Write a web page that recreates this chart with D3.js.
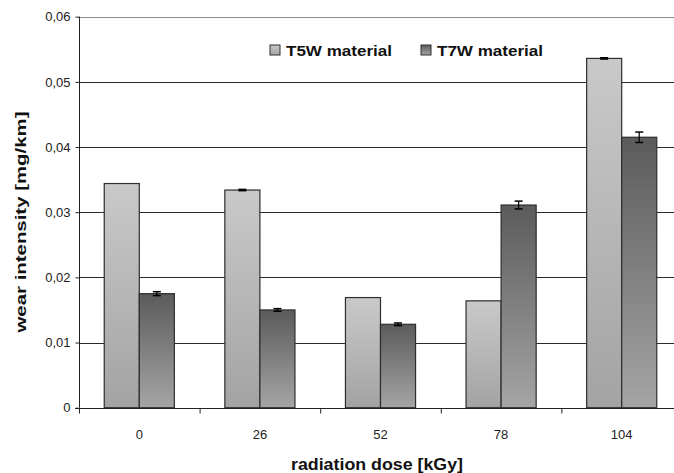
<!DOCTYPE html>
<html><head><meta charset="utf-8">
<script src="https://cdn.jsdelivr.net/npm/d3@7"></script>
<style>body{margin:0;background:#fff;}svg{display:block;}</style>
</head><body>
<svg id="c" width="674" height="473"></svg>
<script>
const categories = ["0", "26", "52", "78", "104"];
const seriesNames = ["T5W material", "T7W material"];
const t5w = [0.0344, 0.0334, 0.0169, 0.0164, 0.0536];
const t7w = [0.0175, 0.0150, 0.0128, 0.0311, 0.0415];
const t5wErr = [0, 0.0001, 0, 0, 0.0001];
const t7wErr = [0.0003, 0.0002, 0.0002, 0.0006, 0.0008];
const yTicks = [0, 0.01, 0.02, 0.03, 0.04, 0.05, 0.06];

const svg = d3.select("#c");
const mLeft = 79, mRight = 682, mTop = 16.7, mBottom = 407.7;

const defs = svg.append("defs");
const g1 = defs.append("linearGradient").attr("id","gl").attr("x1",0).attr("y1",0).attr("x2",0).attr("y2",1);
g1.append("stop").attr("offset","0%").attr("stop-color","#c9c9c9");
g1.append("stop").attr("offset","100%").attr("stop-color","#a3a3a3");
const g2 = defs.append("linearGradient").attr("id","gd").attr("x1",0).attr("y1",0).attr("x2",0).attr("y2",1);
g2.append("stop").attr("offset","0%").attr("stop-color","#5b5b5b");
g2.append("stop").attr("offset","100%").attr("stop-color","#a5a5a5");

const x = d3.scaleBand().domain(categories).range([mLeft, mRight]).paddingInner(0).paddingOuter(0);
const inner = d3.scaleBand().domain([0,1]).range([0, x.bandwidth()]).paddingOuter(0.72).paddingInner(0);
const y = d3.scaleLinear().domain([0, 0.06]).range([mBottom, mTop]);

// gridlines
svg.append("g").selectAll("line").data(yTicks.slice(1)).join("line")
  .attr("x1", mLeft).attr("x2", 674)
  .attr("y1", d => Math.round(y(d)) + 0.5).attr("y2", d => Math.round(y(d)) + 0.5)
  .attr("stroke", d => d === 0.06 ? "#8c8c8c" : "#2a2a2a").attr("stroke-width", 1);

const data = categories.map((c, i) => ({c, vals: [t5w[i], t7w[i]], errs: [t5wErr[i], t7wErr[i]]}));
const fills = ["url(#gl)", "url(#gd)"];

const grp = svg.append("g").selectAll("g").data(data).join("g")
  .attr("transform", d => `translate(${x(d.c)},0)`);
grp.selectAll("rect").data(d => d.vals.map((v, k) => ({v, k}))).join("rect")
  .attr("x", d => inner(d.k)).attr("width", inner.bandwidth())
  .attr("y", d => y(d.v)).attr("height", d => y(0) - y(d.v))
  .attr("fill", d => fills[d.k]).attr("stroke", "#2e2e2e").attr("stroke-width", 1.2);

// error bars
grp.each(function(d) {
  const g = d3.select(this);
  d.vals.forEach((v, k) => {
    const e = d.errs[k];
    if (e <= 0) return;
    const cx = inner(k) + inner.bandwidth() / 2;
    g.append("line").attr("x1", cx).attr("x2", cx).attr("y1", y(v + e)).attr("y2", y(v - e))
      .attr("stroke", "#000").attr("stroke-width", 1.2);
    [v + e, v - e].forEach(t => g.append("line").attr("x1", cx - 4).attr("x2", cx + 4)
      .attr("y1", y(t)).attr("y2", y(t)).attr("stroke", "#000").attr("stroke-width", 1.5));
  });
});

// y axis
const yAxis = d3.axisLeft(y).tickValues(yTicks).tickSize(4).tickPadding(5)
  .tickFormat(d => d === 0 ? "0" : d3.format(".2f")(d).replace(".", ","));
const ya = svg.append("g").attr("transform", `translate(${mLeft + 0.5},0)`).call(yAxis);
ya.select(".domain").attr("stroke", "#222").attr("d", `M0,${mTop}V${mBottom}`);
ya.selectAll(".tick line").attr("stroke", "#222");
ya.selectAll("text").attr("font-family", "Arial, 'Liberation Sans', sans-serif").attr("font-size", 13).attr("fill", "#222");

// x axis
const xa = svg.append("g").attr("transform", `translate(0,${Math.round(mBottom) + 0.5})`);
xa.append("line").attr("x1", mLeft - 4).attr("x2", 674).attr("y1", 0).attr("y2", 0).attr("stroke", "#222");
xa.selectAll("line.tk").data(categories).join("line").attr("class", "tk")
  .attr("x1", d => x(d) + 0.5).attr("x2", d => x(d) + 0.5).attr("y1", 0).attr("y2", 5).attr("stroke", "#222");
xa.selectAll("text").data(categories).join("text")
  .attr("x", d => x(d) + x.bandwidth() / 2).attr("y", 30)
  .attr("text-anchor", "middle").attr("font-family", "Arial, 'Liberation Sans', sans-serif")
  .attr("font-size", 13).attr("fill", "#222").text(d => d);

// titles
svg.append("text").attr("x", 377).attr("y", 470).attr("text-anchor", "middle")
  .attr("font-family", "Arial, 'Liberation Sans', sans-serif").attr("font-weight", "bold")
  .attr("font-size", 16).attr("fill", "#111")
  .attr("textLength", 172).attr("lengthAdjust", "spacingAndGlyphs").text("radiation dose [kGy]");
svg.append("text").attr("transform", "translate(26,222) rotate(-90)").attr("text-anchor", "middle")
  .attr("font-family", "Arial, 'Liberation Sans', sans-serif").attr("font-weight", "bold")
  .attr("font-size", 15).attr("fill", "#111")
  .attr("textLength", 221).attr("lengthAdjust", "spacingAndGlyphs").text("wear intensity [mg/km]");

// legend
const legX = [270, 421];
seriesNames.forEach((n, k) => {
  svg.append("rect").attr("x", legX[k]).attr("y", 45).attr("width", 10).attr("height", 10)
    .attr("fill", fills[k]).attr("stroke", "#2e2e2e").attr("stroke-width", 1);
  svg.append("text").attr("x", legX[k] + 16).attr("y", 56)
    .attr("font-family", "Arial, 'Liberation Sans', sans-serif").attr("font-weight", "bold")
    .attr("font-size", 14).attr("fill", "#111").attr("textLength", 106).attr("lengthAdjust", "spacingAndGlyphs").text(n);
});
</script>
</body></html>
